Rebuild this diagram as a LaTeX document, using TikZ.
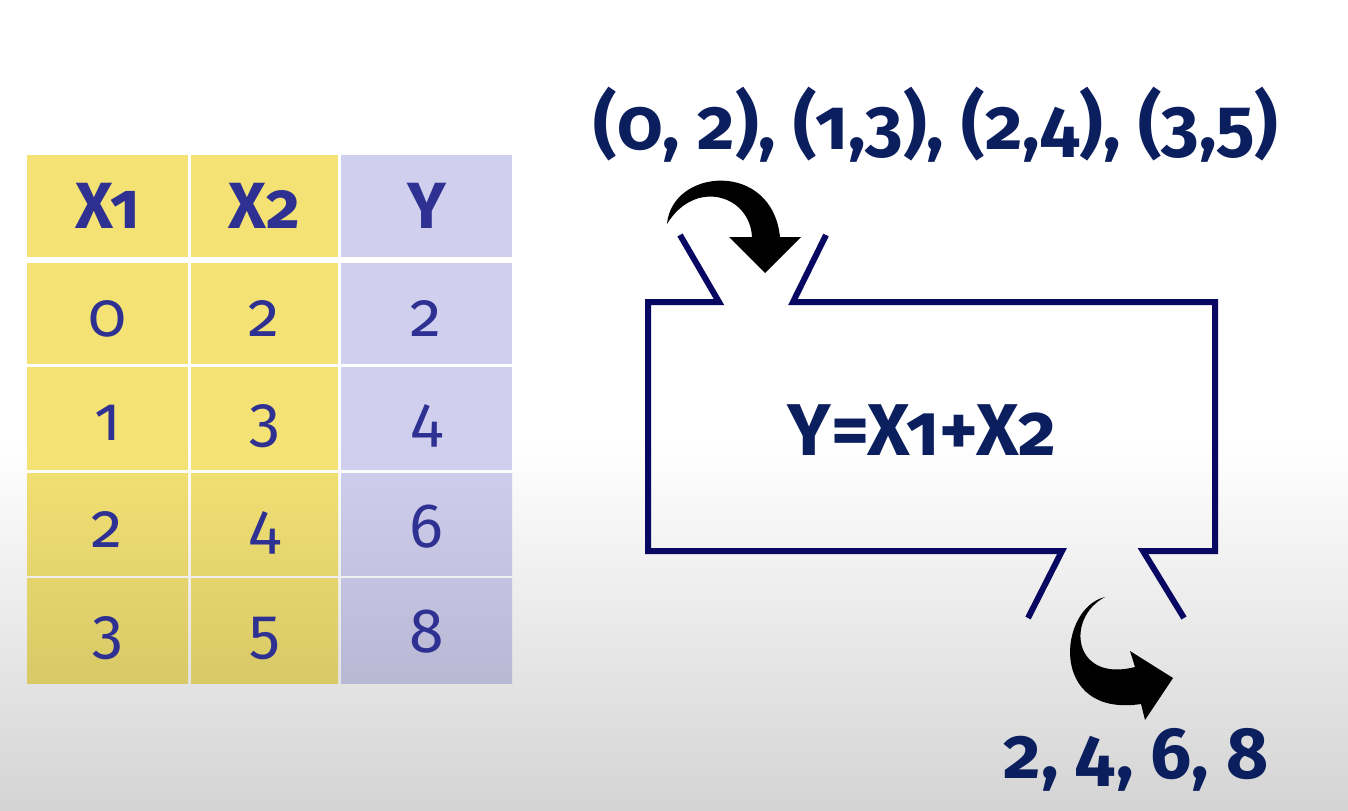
\documentclass[tikz,border=0pt]{standalone}
\usepackage{fontspec}
\setmainfont{Fira Sans}[Numbers=OldStyle]
\definecolor{navy}{HTML}{0B1F5E}
\definecolor{tabtxt}{HTML}{2E3192}
\definecolor{boxc}{HTML}{080863}
\definecolor{yel}{HTML}{F4E274}
\definecolor{lav}{HTML}{D0CFEE}
\definecolor{bgg}{HTML}{D4D4D4}
\colorlet{yelA}{yel!98.6!black}
\colorlet{yelB}{yel!94!black}
\colorlet{yelC}{yel!89!black}
\colorlet{lavA}{lav!98.6!black}
\colorlet{lavB}{lav!94!black}
\colorlet{lavC}{lav!89!black}
\tikzset{
  hdr/.style={anchor=base,text=tabtxt,font=\fontsize{49}{52}\selectfont\bfseries,inner sep=0pt},
  num/.style={anchor=base,text=tabtxt,font=\fontsize{47}{50}\selectfont,inner sep=0pt},
  big/.style={anchor=base,text=navy,font=\fontsize{54.5}{58}\selectfont\bfseries,inner sep=0pt},
  boxline/.style={draw=boxc,line width=4.5pt,line join=miter},
}
\begin{document}
\begin{tikzpicture}[x=0.75pt,y=-0.75pt]
\useasboundingbox (0,0) rectangle (1348,810);
\fill[white] (0,0) rectangle (1348,441);
\shade[top color=white,bottom color=bgg] (0,440) rectangle (1348,810);
% table cells
\fill[yel] (27,155) rectangle (188,257);
\fill[yel] (191,155) rectangle (338,257);
\fill[lav] (341,155) rectangle (512,257);
\fill[yel] (27,263) rectangle (188,364);
\fill[yel] (191,263) rectangle (338,364);
\fill[lav] (341,263) rectangle (512,364);
\fill[yel] (27,367) rectangle (188,470);
\fill[yel] (191,367) rectangle (338,470);
\fill[lav] (341,367) rectangle (512,470);
\shade[top color=yelA,bottom color=yelB] (27,473) rectangle (188,575);
\shade[top color=yelA,bottom color=yelB] (191,473) rectangle (338,575);
\shade[top color=lavA,bottom color=lavB] (341,473) rectangle (512,575);
\shade[top color=yelB,bottom color=yelC] (27,578) rectangle (188,683);
\shade[top color=yelB,bottom color=yelC] (191,578) rectangle (338,683);
\shade[top color=lavB,bottom color=lavC] (341,578) rectangle (512,683);
% table text
\node[hdr] (h1) at (107.5,228) {X1};
\node[hdr] (h2) at (264.5,228) {X2};
\node[hdr] (h3) at (426.5,228) {Y};
\node[num] (a1) at (107.5,336) {0};
\node[num] (a2) at (264.5,336) {2};
\node[num] (a3) at (426.5,336) {2};
\node[num] (b1) at (107.5,440) {1};
\node[num] (b2) at (264.5,440) {3};
\node[num] (b3) at (426.5,440) {4};
\node[num] (c1) at (107.5,547) {2};
\node[num] (c2) at (264.5,547) {4};
\node[num] (c3) at (426.5,547) {6};
\node[num] (d1) at (107.5,652) {3};
\node[num] (d2) at (264.5,652) {5};
\node[num] (d3) at (426.5,652) {8};
% function box
\draw[boxline] (680,235) -- (719,302) -- (648,302) -- (648,551) -- (1062,551) -- (1028,618);
\draw[boxline] (826,235) -- (793,302) -- (1215,302) -- (1215,551) -- (1143,551) -- (1184,618);
\node[anchor=base,text=navy,font=\fontsize{55}{58}\selectfont\bfseries,inner sep=0pt] (f) at (922,455) {Y=X1+X2};
% input / output texts
\node[big] (in) at (936,149) {(0, 2), (1,3), (2,4), (3,5)};
\node[big] (out) at (1136,778) {2, 4, 6, 8};
% curved arrows
\fill[black] (667,224) .. controls (672,168) and (772,160) .. (780,237) -- (801,237) -- (765,273) -- (729,237) -- (752,237) .. controls (750,195) and (695,178) .. (667,224) -- cycle;
\fill[black] (1105,597) .. controls (1058,608) and (1048,718) .. (1141,704) -- (1145,720) -- (1173,678) -- (1130,651) -- (1135,667) .. controls (1073,683) and (1065,618) .. (1105,597) -- cycle;
\end{tikzpicture}
\end{document}
